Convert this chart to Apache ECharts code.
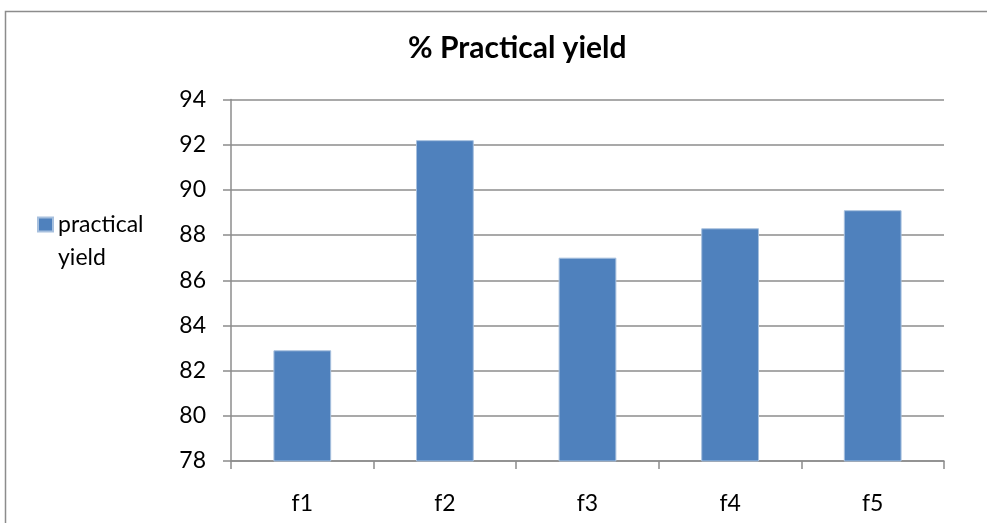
<!DOCTYPE html>
<html>
<head>
<meta charset="utf-8">
<script src="https://cdn.jsdelivr.net/npm/echarts@6/dist/echarts.min.js"></script>
<style>
  html, body { margin: 0; padding: 0; background: #fff; }
  #chart { width: 987px; height: 523px; }
</style>
</head>
<body>
<div id="chart"></div>
<script>
// Formulation batches and their practical yield (%)
const categories = ['f1', 'f2', 'f3', 'f4', 'f5'];
const yieldValues = [82.9, 92.2, 87.0, 88.3, 89.1];
const seriesName = 'practical yield';
const titleText = '% Practical yield';

const FONT = 'Lato, "Open Sans", sans-serif';
const GRID_COLOR = '#8c8c8c';

const chart = echarts.init(document.getElementById('chart'), null, { renderer: 'canvas' });

chart.setOption({
  backgroundColor: '#ffffff',
  animation: false,
  title: {
    text: titleText,
    left: 403,
    top: 28,
    textStyle: { fontFamily: FONT, fontSize: 30, fontWeight: 'bold', color: '#000' }
  },
  legend: {
    data: [seriesName],
    left: 32,
    top: 170,
    icon: 'rect',
    itemWidth: 15,
    itemHeight: 14,
    // leading blank line keeps the first text line level with the swatch
    formatter: () => '\npractical\nyield',
    textStyle: {
      fontFamily: FONT,
      fontSize: 23,
      color: '#000',
      lineHeight: 33
    }
  },
  graphic: [{
    type: 'rect',
    silent: true,
    shape: { x: 5.5, y: 11.5, width: 1000, height: 600 },
    style: { fill: 'none', stroke: GRID_COLOR, lineWidth: 1.5 }
  }],
  grid: { left: 231, right: 43, top: 99.5, bottom: 62, containLabel: false },
  xAxis: {
    type: 'category',
    data: categories,
    boundaryGap: true,
    axisLine: { lineStyle: { color: GRID_COLOR, width: 1.5 } },
    axisTick: { show: true, length: 8, lineStyle: { color: GRID_COLOR, width: 1.5 } },
    axisLabel: { margin: 31, fontFamily: FONT, fontSize: 23, color: '#000' },
    splitLine: { show: false }
  },
  yAxis: {
    type: 'value',
    min: 78,
    max: 94,
    interval: 2,
    axisLine: { show: true, lineStyle: { color: GRID_COLOR, width: 1.5 } },
    axisTick: { show: true, length: 8, lineStyle: { color: GRID_COLOR, width: 1.5 } },
    axisLabel: { margin: 25, fontFamily: FONT, fontSize: 23, color: '#000' },
    splitLine: { show: true, lineStyle: { color: GRID_COLOR, width: 1.5 } }
  },
  series: [{
    name: seriesName,
    type: 'bar',
    data: yieldValues,
    barWidth: '40.5%',
    itemStyle: { color: '#4f81bd', borderColor: '#a7c0de', borderWidth: 1 }
  }]
});
</script>
</body>
</html>
